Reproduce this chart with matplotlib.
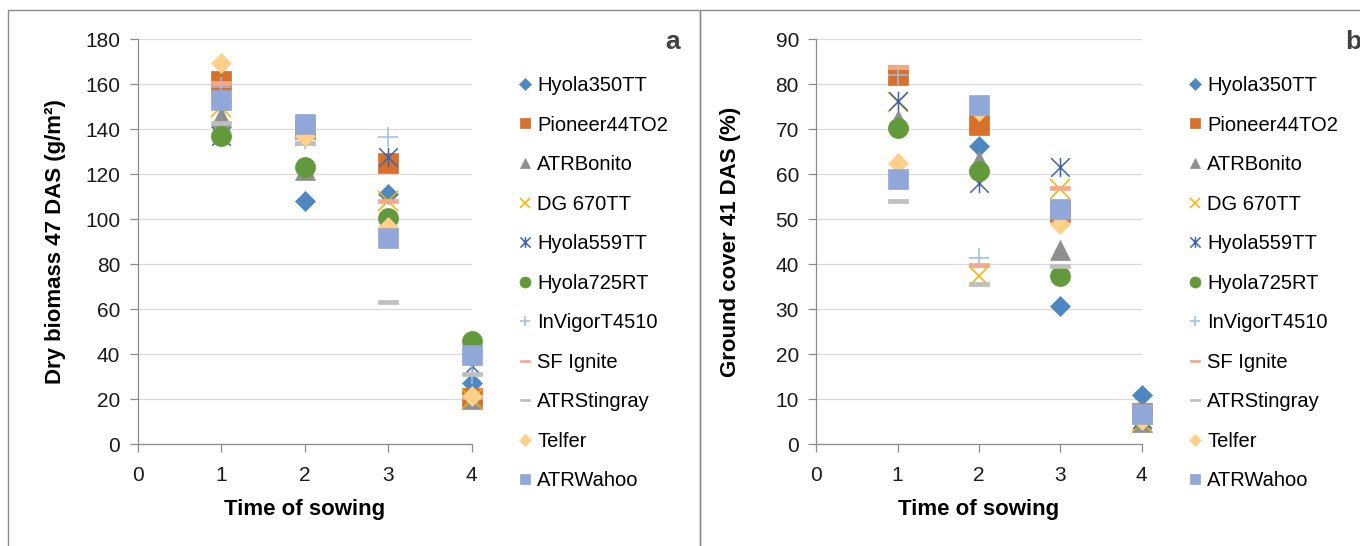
import matplotlib.pyplot as plt
import numpy as np
from matplotlib.path import Path
from matplotlib.patches import Rectangle

plt.rcParams['font.family'] = ['Liberation Sans', 'DejaVu Sans']

# time of sowing
tos = [1, 2, 3, 4]

cultivars = ['Hyola350TT', 'Pioneer44TO2', 'ATRBonito', 'DG 670TT', 'Hyola559TT',
             'Hyola725RT', 'InVigorT4510', 'SF Ignite', 'ATRStingray', 'Telfer', 'ATRWahoo']

# panel a: dry biomass 47 DAS (g/m2)
bio_hyola350 = [152, 108.3, 111, 27]
bio_pioneer = [161.5, 140, 124.8, 20.3]
bio_bonito = [145.6, 122, 100, 20]
bio_dg670 = [150, 137, 108, 20]
bio_hyola559 = [137, 137, 127.8, 34.5]
bio_hyola725 = [137, 123, 100.6, 45.6]
bio_invigor = [159, 135.5, 136.5, 31]
bio_sfignite = [160.7, 140, 108, 21]
bio_stingray = [142.9, 133.7, 63.3, 31.2]
bio_telfer = [169.6, 137, 96.4, 21.4]
bio_wahoo = [153, 142.4, 91.5, 39.4]

# panel b: ground cover 41 DAS (%)
gc_hyola350 = [70.3, 66.2, 30.8, 10.9]
gc_pioneer = [82.1, 70.9, 51.5, 6.8]
gc_bonito = [72, 63, 43.2, 5]
gc_dg670 = [76, 37.3, 56.6, 5]
gc_hyola559 = [76.3, 58, 61.6, 5.5]
gc_hyola725 = [70.3, 60.7, 37.3, 5.8]
gc_invigor = [82, 41.4, 52, 6]
gc_sfignite = [83.9, 39.7, 57, 6]
gc_stingray = [54.1, 35.6, 39.5, 5]
gc_telfer = [62.4, 74, 48.9, 5.3]
gc_wahoo = [58.9, 75.5, 52.2, 6.6]

biomass = [bio_hyola350, bio_pioneer, bio_bonito, bio_dg670, bio_hyola559, bio_hyola725,
           bio_invigor, bio_sfignite, bio_stingray, bio_telfer, bio_wahoo]
cover = [gc_hyola350, gc_pioneer, gc_bonito, gc_dg670, gc_hyola559, gc_hyola725,
         gc_invigor, gc_sfignite, gc_stingray, gc_telfer, gc_wahoo]

# custom markers
asterisk = Path([(-1, -1), (1, 1), (-1, 1), (1, -1), (0, -1.05), (0, 1.05)],
                [Path.MOVETO, Path.LINETO, Path.MOVETO, Path.LINETO, Path.MOVETO, Path.LINETO])
dash = Path([(-1, -0.25), (1, -0.25), (1, 0.25), (-1, 0.25), (-1, -0.25)],
            [Path.MOVETO, Path.LINETO, Path.LINETO, Path.LINETO, Path.CLOSEPOLY])

styles = [
    dict(marker='D', ms=10.2, color='#4F88C0'),
    dict(marker='s', ms=14, color='#D6702B'),
    dict(marker='^', ms=14, color='#8F8F8F'),
    dict(marker='x', ms=14, color='#F2B200', mew=1.1),
    dict(marker=asterisk, ms=14, color='#3F64B0', mew=1.1),
    dict(marker='o', ms=14.4, color='#629A3B'),
    dict(marker='+', ms=14, color='#9DBCE6', mew=1.1),
    dict(marker=dash, ms=14, color='#F4A98A'),
    dict(marker=dash, ms=14, color='#BFBFBF'),
    dict(marker='D', ms=10.2, color='#FFD08A'),
    dict(marker='s', ms=14, color='#91A7D8'),
]

W, H = 1360, 546
fig = plt.figure(figsize=(13.6, 5.46), dpi=100)

# chart borders
fig.patches.append(Rectangle((8 / W, -0.1), (700 - 8) / W, 1.1 - 10 / H, transform=fig.transFigure,
                             fill=False, ec='#8C8C8C', lw=1.0, zorder=0))
fig.patches.append(Rectangle((700 / W, -0.1), 0.5, 1.1 - 10 / H, transform=fig.transFigure,
                             fill=False, ec='#8C8C8C', lw=1.0, zorder=0))

ax1 = fig.add_axes([137.7 / W, 102 / H, 334 / W, 404.7 / H])
ax2 = fig.add_axes([816.3 / W, 102 / H, 325.4 / W, 404.7 / H])


def draw(ax, data, ymax, ystep, ylabel, ylab_x, leg_x, letter, letter_x):
    for name, vals, st in zip(cultivars, data, styles):
        st = dict(st)
        mew = st.pop('mew', 0.5)
        ax.plot(tos, vals, linestyle='none', marker=st['marker'], ms=st['ms'],
                color=st['color'], mfc=st['color'], mec=st['color'], mew=mew,
                clip_on=False, label=name)
    ax.set_xlim(0, 4)
    ax.set_ylim(0, ymax)
    ax.set_xticks(range(5))
    ax.set_yticks(np.arange(0, ymax + 1, ystep))
    ax.grid(axis='y', color='#D9D9D9', lw=0.9)
    ax.set_axisbelow(True)
    for s in ['top', 'right']:
        ax.spines[s].set_visible(False)
    for s in ['left', 'bottom']:
        ax.spines[s].set_color('#8C8C8C')
        ax.spines[s].set_linewidth(0.9)
    ax.tick_params(direction='out', length=5.5, width=0.9, color='#8C8C8C',
                   labelsize=15, labelcolor='#1a1a1a')
    ax.tick_params(axis='x', pad=10)
    ax.tick_params(axis='y', pad=7)
    ax.set_xlabel('Time of sowing', fontsize=16, fontweight='bold')
    ax.xaxis.set_label_coords(0.5, -0.137)
    ax.set_ylabel(ylabel, fontsize=16, fontweight='bold')
    ax.yaxis.set_label_coords(ylab_x, 0.5)
    ax.legend(loc='upper left', bbox_to_anchor=(leg_x / W, 1 - 76 / H),
              bbox_transform=fig.transFigure, frameon=False, fontsize=14.5,
              markerscale=0.55, handlelength=0.5, handletextpad=0.35,
              labelspacing=1.02, borderaxespad=0, borderpad=0)
    fig.text(letter_x / W, 1 - 42 / H, letter, fontsize=19, fontweight='bold',
             color='#404040', ha='center', va='center')


draw(ax1, biomass, 180, 20, 'Dry biomass 47 DAS (g/m²)', -0.215, 520, 'a', 673)
draw(ax2, cover, 90, 10, 'Ground cover 41 DAS (%)', -0.231, 1190, 'b', 1353)

fig.savefig('out.png', dpi=100)
